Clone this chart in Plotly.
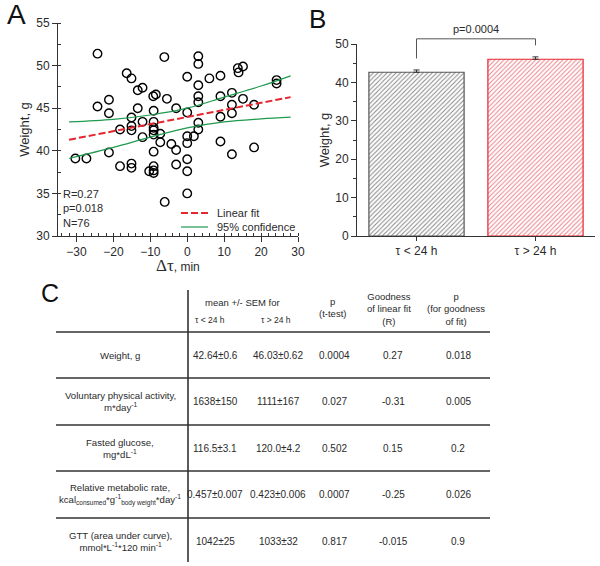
import plotly.graph_objects as go

W, H = 600, 566

# ---------------- Panel A data ----------------
dtau = [-24.3, -6.2, 3.0, 3.0, -16.4, -15.1, 0, 6, 9, 3,
        13.9, 13.7, 15.1, 24.2, 24.2, -13.4, -12.1, -9.2, -8.5, -21.2,
        -24.3, -21.2, -5.5, 3, 3, 9, 12.1, 15.1, 12.1, 12.1,
        18.1, -13.4, -9.1, -3, 0, -15.1, -12.1, -9.1, -15.1, -15.1,
        -18.2, -9.1, -9.1, -9.1, -7.3, -12.1, -7.3, -4.3, -3, 0,
        0, 1.8, 3, 3, 9, 9, 12.1, 18.1, -9.1, -21.2,
        -30.3, -27.3, -18.2, -15.1, -15.1, -9.1, -9.1, -10.3, -9.1, -3,
        0, 0, 0, -6.1]
weight = [51.4, 51.0, 51.1, 50.2, 49.1, 48.5, 48.7, 48.5, 48.8, 47.7,
          49.2, 49.7, 49.9, 48.3, 47.9, 47.1, 47.4, 46.4, 46.6, 46.0,
          45.2, 44.4, 46.1, 46.4, 45.7, 46.4, 46.8, 46.1, 45.4, 44.4,
          45.4, 45.0, 44.7, 45.0, 44.5, 43.9, 43.4, 43.4, 42.9, 42.4,
          42.5, 42.7, 42.4, 41.9, 42.0, 41.6, 41.0, 40.8, 40.1, 41.7,
          40.9, 41.7, 43.3, 42.5, 44.0, 41.1, 39.6, 40.4, 39.9, 39.8,
          39.1, 39.1, 38.2, 38.5, 38.0, 38.2, 37.7, 37.6, 37.4, 38.4,
          39.0, 37.6, 35.0, 34.0]
fit_x = [-32, 28]
fit_y = [41.3, 46.3]
band_x = [-32, -20, -10, 0, 10, 20, 28]
band_upper = [43.4, 43.7, 44.2, 45.0, 46.3, 47.6, 48.8]
band_lower = [39.1, 40.4, 41.6, 42.7, 43.4, 43.75, 43.95]
stats_text = ["R=0.27", "p=0.018", "N=76"]
legend_names = ["Linear fit", "95% confidence"]

# ---------------- Panel B data ----------------
groups = ["\u03c4 < 24 h", "\u03c4 > 24 h"]
group_mean = [42.64, 46.03]
group_sem = [0.6, 0.62]
p_label = "p=0.0004"

# ---------------- Panel C data ----------------
row_labels = [
    "Weight, g",
    "Voluntary physical activity,<br>m*day<sup>-1</sup>",
    "Fasted glucose,<br>mg*dL<sup>-1</sup>",
    "Relative metabolic rate,<br>kcal<sub><span style='font-size:6.5px'>consumed</span></sub>*g<sup>-1</sup>"
    "<sub><span style='font-size:6.5px'>body weight</span></sub>*day<sup>-1</sup>",
    "GTT (area under curve),<br>mmol*L<sup>-1</sup>*120 min<sup>-1</sup>",
]
mean_lt = ["42.64\u00b10.6", "1638\u00b1150", "116.5\u00b13.1", "0.457\u00b10.007", "1042\u00b125"]
mean_gt = ["46.03\u00b10.62", "1111\u00b1167", "120.0\u00b14.2", "0.423\u00b10.006", "1033\u00b132"]
p_ttest = ["0.0004", "0.027", "0.502", "0.0007", "0.817"]
r_fit = ["0.27", "-0.31", "0.15", "-0.25", "-0.015"]
p_fit = ["0.018", "0.005", "0.2", "0.026", "0.9"]
headers = ["mean +/- SEM for", "\u03c4 < 24 h", "\u03c4 > 24 h", "p<br>(t-test)",
           "Goodness<br>of linear fit<br>(R)", "p<br>(for goodness<br>of fit)"]

FONT = "Liberation Sans, Arial, sans-serif"
TXT = "#2a2a2a"
AX = "#333333"
RED = "#e3262f"
GREEN = "#1f9a4f"


def px_x(p):
    return p / W


def px_y(p):
    return 1 - p / H


fig = go.Figure()

# Panel A traces
fig.add_trace(go.Scatter(x=dtau, y=weight, mode="markers", showlegend=False,
                         marker=dict(symbol="circle-open", size=8.5, color="black",
                                     line=dict(width=1.4, color="black")),
                         xaxis="x", yaxis="y"))
fig.add_trace(go.Scatter(x=band_x, y=band_upper, mode="lines", line=dict(color=GREEN, width=1.2, shape="spline"),
                         showlegend=False, xaxis="x", yaxis="y"))
fig.add_trace(go.Scatter(x=band_x, y=band_lower, mode="lines", line=dict(color=GREEN, width=1.2, shape="spline"),
                         showlegend=False, xaxis="x", yaxis="y"))
fig.add_trace(go.Scatter(x=fit_x, y=fit_y, mode="lines", line=dict(color=RED, width=2, dash="7px,3px"),
                         showlegend=False, xaxis="x", yaxis="y"))

# Panel B bars
fig.add_trace(go.Bar(x=[0, 1], y=group_mean, width=0.8, showlegend=False,
                     marker=dict(color="white",
                                 line=dict(color=["#555555", RED], width=1.2),
                                 pattern=dict(shape="/", fgcolor=["#858585", "#ec8088"], bgcolor="white",
                                              size=3.2, solidity=0.3)),
                     error_y=dict(type="data", array=group_sem, arrayminus=[0, 0], symmetric=False,
                                  color="#333", thickness=1, width=3),
                     xaxis="x2", yaxis="y2"))

ymax_b = 50
xr_b = [-0.5, 1.5]


def dom_x(i):
    return (i - xr_b[0]) / (xr_b[1] - xr_b[0])


gap = 3.0
top = max(m + s for m, s in zip(group_mean, group_sem)) + gap + 1.7
legs = [m + s + gap for m, s in zip(group_mean, group_sem)]
shapes = [dict(type="path", xref="x2 domain", yref="y2 domain",
               path=f"M {dom_x(0)} {legs[0]/ymax_b} L {dom_x(0)} {top/ymax_b} L {dom_x(1)} {top/ymax_b} L {dom_x(1)} {legs[1]/ymax_b}",
               line=dict(color="#555", width=1))]

annotations = [dict(xref="x2 domain", yref="y2 domain", x=(dom_x(0) + dom_x(1)) / 2, y=top / ymax_b,
                    yanchor="bottom", yshift=2, text=p_label, showarrow=False,
                    font=dict(family=FONT, size=11, color=TXT))]

# Panel A legend (drawn manually, inside plot)
leg_styles = [dict(color=RED, width=2, dash="7px,3px"), dict(color=GREEN, width=1.2)]
for i, (nm, st) in enumerate(zip(legend_names, leg_styles)):
    yy = 213 + i * 14
    shapes.append(dict(type="line", xref="paper", yref="paper", x0=px_x(181), x1=px_x(208),
                       y0=px_y(yy), y1=px_y(yy), line=st))
    annotations.append(dict(xref="paper", yref="paper", x=px_x(215), y=px_y(yy), xanchor="left",
                            yanchor="middle", text=nm, showarrow=False,
                            font=dict(family=FONT, size=11, color=TXT)))

# Panel A stats text
for i, t in enumerate(stats_text):
    annotations.append(dict(xref="paper", yref="paper", x=px_x(61), y=px_y(194 + i * 14.5),
                            xanchor="left", yanchor="middle", text=t, showarrow=False,
                            font=dict(family=FONT, size=11, color=TXT)))

# Panel A x-axis title
annotations.append(dict(xref="paper", yref="paper", x=px_x(178), y=px_y(265), xanchor="center",
                        yanchor="middle", showarrow=False,
                        text="<span style='font-family:Liberation Serif;font-size:17px'>\u0394\u03c4</span>, min",
                        font=dict(family=FONT, size=12, color=TXT)))

# Panel letters
annotations += [
    dict(xref="paper", yref="paper", x=px_x(5), y=px_y(15), xanchor="left", yanchor="middle",
         text="A", showarrow=False, font=dict(family=FONT, size=28, color="#111")),
    dict(xref="paper", yref="paper", x=px_x(307), y=px_y(19), xanchor="left", yanchor="middle",
         text="B", showarrow=False, font=dict(family=FONT, size=26, color="#111")),
    dict(xref="paper", yref="paper", x=px_x(39), y=px_y(293), xanchor="left", yanchor="middle",
         text="C", showarrow=False, font=dict(family=FONT, size=25, color="#111")),
]

# ---------------- Panel C table ----------------
row_lines = [332, 378, 425, 471, 518]
row_h = 46.5
table_left, table_right, vline_x = 56, 490, 188
for yl in row_lines:
    shapes.append(dict(type="line", xref="paper", yref="paper", x0=px_x(table_left), x1=px_x(table_right),
                       y0=px_y(yl), y1=px_y(yl), line=dict(color="#333", width=1.6)))
shapes.append(dict(type="line", xref="paper", yref="paper", x0=px_x(vline_x), x1=px_x(vline_x),
                   y0=px_y(290), y1=px_y(562), line=dict(color="#333", width=1.6)))

col_x = [215, 278, 334, 393, 458]
label_x = 120
cols = [mean_lt, mean_gt, p_ttest, r_fit, p_fit]
for r in range(len(row_labels)):
    yc = row_lines[r] + row_h / 2
    annotations.append(dict(xref="paper", yref="paper", x=px_x(label_x), y=px_y(yc), xanchor="center",
                            yanchor="middle", text=row_labels[r], showarrow=False, align="center",
                            font=dict(family=FONT, size=9.6, color=TXT)))
    for c, col in enumerate(cols):
        annotations.append(dict(xref="paper", yref="paper", x=px_x(col_x[c]), y=px_y(yc), xanchor="center",
                                yanchor="middle", text=col[r], showarrow=False,
                                font=dict(family=FONT, size=10, color=TXT)))

hdr_pos = [(242, 302, 9.5), (210, 320, 8.5), (276, 320, 8.5), (332, 307, 9.5), (389, 309, 9.5), (456, 309, 9.5)]
for t, (hx, hy, fs) in zip(headers, hdr_pos):
    annotations.append(dict(xref="paper", yref="paper", x=px_x(hx), y=px_y(hy), xanchor="center",
                            yanchor="middle", text=t, showarrow=False, align="center",
                            font=dict(family=FONT, size=fs, color=TXT)))

axis_common = dict(showline=True, linecolor=AX, linewidth=1, showgrid=False, zeroline=False,
                   tickfont=dict(family=FONT, size=12, color=TXT), tickcolor=AX, ticks="outside",
                   automargin=False)

fig.update_layout(
    template="none",
    width=W, height=H, margin=dict(l=0, r=0, t=0, b=0, pad=0), autosize=False,
    paper_bgcolor="white", plot_bgcolor="white", showlegend=False,
    font=dict(family=FONT, color=TXT),
    xaxis=dict(domain=[px_x(58), px_x(298)], range=[-35, 30], dtick=10, tick0=0, ticklen=5,
               minor=dict(dtick=2, ticks="inside", ticklen=3, tickcolor=AX),
               anchor="y", **axis_common),
    yaxis=dict(domain=[px_y(236), px_y(23)], range=[30, 55], dtick=5, ticklen=5,
               minor=dict(dtick=2.5, ticks="inside", ticklen=3, tickcolor=AX),
               title=dict(text="Weight, g", font=dict(family=FONT, size=13, color=TXT), standoff=3),
               anchor="x", **axis_common),
    xaxis2=dict(domain=[px_x(357), px_x(595)], range=xr_b, tickvals=[0, 1], ticktext=groups, ticklen=4,
                anchor="y2", **axis_common),
    yaxis2=dict(domain=[px_y(236), px_y(44)], range=[0, ymax_b], dtick=10, ticklen=5,
                minor=dict(dtick=5, ticks="outside", ticklen=3, tickcolor=AX),
                title=dict(text="Weight, g", font=dict(family=FONT, size=13, color=TXT), standoff=2),
                anchor="x2", **axis_common),
    shapes=shapes, annotations=annotations, bargap=0.2,
)

fig.write_html("out.html", config={"displayModeBar": False},
               post_script="document.body.style.margin='0px';")
